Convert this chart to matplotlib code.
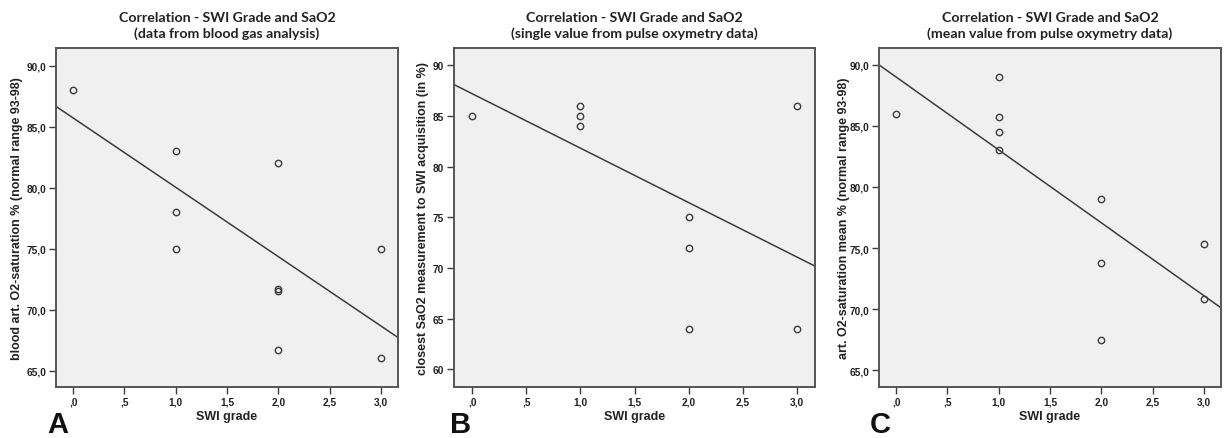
# SWI grade vs SaO2 - three correlation scatter plots

import matplotlib
matplotlib.use("Agg")
import matplotlib.pyplot as plt
from matplotlib.ticker import FuncFormatter, MultipleLocator
import numpy as np

# panel A - blood gas analysis
grade_a = [0, 1, 1, 1, 2, 2, 2, 2, 3, 3]
sao2_a = [88.0, 83.0, 78.0, 75.0, 82.0, 71.7, 71.5, 66.7, 75.0, 66.0]
fit_a = (85.71, -5.68)  # intercept, slope as drawn

# panel B - single pulse oxymetry value
grade_b = [0, 1, 1, 1, 2, 2, 2, 3, 3]
sao2_b = [85, 86, 85, 84, 75, 72, 64, 86, 64]
fit_b = (87.19, -5.37)

# panel C - mean pulse oxymetry value
grade_c = [0, 1, 1, 1, 1, 2, 2, 2, 3, 3]
sao2_c = [86.0, 89.0, 85.7, 84.5, 83.0, 79.0, 73.8, 67.5, 75.3, 70.8]
fit_c = (88.99, -5.96)

titles = ["Correlation - SWI Grade and SaO2\n(data from blood gas analysis)",
          "Correlation - SWI Grade and SaO2\n(single value from pulse oxymetry data)",
          "Correlation - SWI Grade and SaO2\n(mean value from pulse oxymetry data)"]
ylabels = ["blood art. O2-saturation % (normal range 93-98)",
           "closest SaO2 measurement to SWI acquisition (in %)",
           "art. O2-saturation mean % (normal range 93-98)"]
letters = ["A", "B", "C"]

dark = "#3c3c3c"


def comma_fmt(decimals):
    def f(v, pos):
        s = f"{v:.{decimals}f}".replace(".", ",")
        if s.startswith("0,"):
            s = s[1:]
        return s
    return FuncFormatter(f)


fig = plt.figure(figsize=(12.26, 4.39), dpi=100)
W, H = 1226, 439

# axes boxes in pixels: left, top, right, bottom
boxes = [(56, 49, 398, 388), (454, 49, 815, 388), (879, 49, 1221, 388)]
ylims = [(63.66, 91.45), (58.25, 91.7), (63.63, 91.37)]
ysteps = [5, 5, 5]
ydec = [1, 0, 1]
ylab_x = [-0.097, -0.068, -0.086]
letter_x = [47, 450, 870]

datasets = [(grade_a, sao2_a, fit_a), (grade_b, sao2_b, fit_b), (grade_c, sao2_c, fit_c)]

for i, (gx, gy, fit) in enumerate(datasets):
    l, t, r, b = boxes[i]
    ax = fig.add_axes([l / W, 1 - b / H, (r - l) / W, (b - t) / H])
    ax.set_facecolor("#f0f0f0")
    ax.set_xlim(-0.168, 3.168)
    ax.set_ylim(*ylims[i])

    # regression line across the full x range
    xx = np.array(ax.get_xlim())
    ax.plot(xx, fit[0] + fit[1] * xx, color=dark, linewidth=1.1, zorder=2)

    ax.plot(gx, gy, linestyle="none", marker="o", markersize=4.6,
            markerfacecolor="none", markeredgecolor=dark, markeredgewidth=1.0, zorder=3)

    ax.xaxis.set_major_locator(MultipleLocator(0.5))
    ax.yaxis.set_major_locator(MultipleLocator(ysteps[i]))
    ax.xaxis.set_major_formatter(comma_fmt(1))
    ax.yaxis.set_major_formatter(comma_fmt(ydec[i]))
    ax.tick_params(axis="both", length=5, width=1.0, color=dark, labelcolor="#222222",
                   labelsize=7.3, pad=2)
    for lab in ax.get_xticklabels() + ax.get_yticklabels():
        lab.set_fontweight("bold")
        lab.set_family("Liberation Sans")
    for sp in ax.spines.values():
        sp.set_color("#555555")
        sp.set_linewidth(1.4)

    ax.set_xlabel("SWI grade", fontsize=9, fontweight="bold", family="Liberation Sans", color="#222222")
    ax.xaxis.set_label_coords(0.5, -0.068)
    ax.set_ylabel(ylabels[i], fontsize=9, fontweight="bold", family="Liberation Sans", color="#222222")
    ax.yaxis.set_label_coords(ylab_x[i], 0.5)

    ax.set_title(titles[i], fontsize=10.2, fontweight="bold", family="Lato",
                 color="#222222", pad=8, linespacing=1.3)

    fig.text(letter_x[i] / W, 1 - 433 / H, letters[i], fontsize=21, fontweight="bold",
             family="Liberation Sans", color="#111111", ha="left", va="baseline")

plt.savefig("out.png", dpi=100)
